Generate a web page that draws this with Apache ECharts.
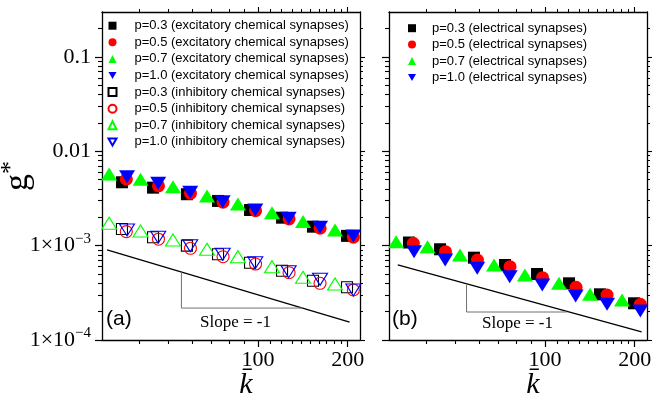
<!DOCTYPE html>
<html><head><meta charset="utf-8">
<script src="https://cdn.jsdelivr.net/npm/echarts@6/dist/echarts.min.js"></script>
<style>html,body{margin:0;padding:0;background:#fff}#c{width:659px;height:403px}</style>
</head><body><div id="c"></div><script>
// ---- data ----
const kP03 = [35.0, 44.5, 57.8, 73.5, 94.1, 120.5, 153, 199];
const kP05 = [36.2, 46.4, 59.4, 76.4, 98.2, 127.2, 161.6, 209];
const kP07 = [31.7, 40.4, 51.9, 67.5, 85.7, 111.5, 141.7, 181.4];
const kP10 = [36.4, 46.3, 59.3, 76.2, 98.0, 126.8, 161.6, 209];

const gExcP03 = [4.70e-3, 4.12e-3, 3.51e-3, 2.98e-3, 2.39e-3, 1.98e-3, 1.59e-3, 1.27e-3];
const gExcP05 = [5.06e-3, 4.30e-3, 3.59e-3, 2.89e-3, 2.35e-3, 1.92e-3, 1.53e-3, 1.23e-3];
const gExcP07 = [5.76e-3, 5.06e-3, 4.22e-3, 3.37e-3, 2.77e-3, 2.24e-3, 1.80e-3, 1.47e-3];
const gExcP10 = [5.39e-3, 4.59e-3, 3.68e-3, 2.93e-3, 2.39e-3, 1.95e-3, 1.57e-3, 1.27e-3];

const gInhP03 = [1.50e-3, 1.23e-3, 1.00e-3, 8.11e-4, 6.60e-4, 5.43e-4, 4.25e-4, 3.62e-4];
const gInhP05 = [1.41e-3, 1.17e-3, 9.38e-4, 7.64e-4, 6.39e-4, 5.17e-4, 3.99e-4, 3.39e-4];
const gInhP07 = [1.73e-3, 1.43e-3, 1.15e-3, 9.16e-4, 7.64e-4, 5.99e-4, 4.62e-4, 3.93e-4];
const gInhP10 = [1.47e-3, 1.23e-3, 1.00e-3, 8.11e-4, 6.60e-4, 5.30e-4, 4.40e-4, 3.39e-4];

const gEleP03 = [1.08e-3, 9.16e-4, 7.46e-4, 6.24e-4, 5.01e-4, 3.99e-4, 3.05e-4, 2.45e-4];
const gEleP05 = [1.06e-3, 8.64e-4, 7.05e-4, 5.99e-4, 4.58e-4, 3.62e-4, 3.00e-4, 2.39e-4];
const gEleP07 = [1.10e-3, 9.76e-4, 7.97e-4, 6.24e-4, 4.89e-4, 3.99e-4, 3.05e-4, 2.66e-4];
const gEleP10 = [8.64e-4, 7.05e-4, 5.76e-4, 4.69e-4, 3.83e-4, 2.93e-4, 2.39e-4, 2.03e-4];

// slope guide lines (reference lines drawn in data space)
const slopeAK = [31.2, 203];   const slopeAG = [9.0e-4, 1.55e-4];
const triAK = [55.4, 55.4, 141.4]; const triAG = [5.26e-4, 2.18e-4, 2.18e-4];
const slopeBK = [32.1, 211];   const slopeBG = [6.24e-4, 1.22e-4];
const triBK = [54.6, 54.6, 118.4]; const triBG = [3.83e-4, 1.98e-4, 1.98e-4];

// ticks
const kTicksMajor = [100, 200];
const kTickLabels = ['100', '200'];
const kTicksMinor = [40, 50, 60, 70, 80, 90, 110, 120, 130, 140, 150, 160, 170, 180, 190];
const gTicksMajor = [1e-4, 1e-3, 1e-2, 1e-1];
const gTickLabels = ['1×10{sup|−4}', '1×10{sup|−3}', '0.01', '0.1'];
const gTicksMinor = [2e-4, 3e-4, 4e-4, 5e-4, 6e-4, 7e-4, 8e-4, 9e-4,
                     2e-3, 3e-3, 4e-3, 5e-3, 6e-3, 7e-3, 8e-3, 9e-3,
                     0.02, 0.03, 0.04, 0.05, 0.06, 0.07, 0.08, 0.09, 0.2];

const namesA = ['p=0.3 (excitatory chemical synapses)', 'p=0.5 (excitatory chemical synapses)',
  'p=0.7 (excitatory chemical synapses)', 'p=1.0 (excitatory chemical synapses)',
  'p=0.3 (inhibitory chemical synapses)', 'p=0.5 (inhibitory chemical synapses)',
  'p=0.7 (inhibitory chemical synapses)', 'p=1.0 (inhibitory chemical synapses)'];
const namesB = ['p=0.3 (electrical synapses)', 'p=0.5 (electrical synapses)',
  'p=0.7 (electrical synapses)', 'p=1.0 (electrical synapses)'];

// ---- build ----
const SERIF = '"Liberation Serif", "Times New Roman", serif';
const SANS = '"Liberation Sans", Arial, sans-serif';
const XMIN = 30, XMAX = 220, YMIN = 1e-4, YMAX = 0.3;
const zip = (a, b) => a.map((v, i) => [v, b[i]]);
const lineBlack = { color: '#000', width: 1.3 };
const DOWN_ICON = 'path://M0,0L10,0L5,8.7Z';

function xAxes(g, main) {
  const base = { type: 'log', logBase: 10, gridIndex: g, min: XMIN, max: XMAX,
    splitLine: { show: false }, minorTick: { show: false }, minorSplitLine: { show: false } };
  return [
    Object.assign({}, base, { position: 'bottom',
      axisLine: { show: true, lineStyle: lineBlack },
      axisTick: { show: true, customValues: kTicksMajor, length: 7, lineStyle: { color: '#000', width: 1.2 } },
      axisLabel: { show: true, customValues: kTicksMajor,
        formatter: v => kTickLabels[kTicksMajor.findIndex(t => Math.abs(t - v) < 1e-6 * t)] || '',
        fontFamily: SERIF, fontSize: 22, color: '#000', margin: 9 },
      name: 'k\u0304', nameLocation: 'middle', nameGap: 30, nameMoveOverlap: false,
      nameTextStyle: { fontFamily: SERIF, fontStyle: 'italic', fontSize: 30, color: '#000', padding: [0, 0, 0, 30] } }),
    Object.assign({}, base, { position: 'bottom',
      axisLine: { show: false },
      axisTick: { show: true, customValues: kTicksMinor, length: 4, lineStyle: { color: '#000', width: 1.1 } },
      axisLabel: { show: false } }),
    Object.assign({}, base, { position: 'top',
      axisLine: { show: true, lineStyle: lineBlack },
      axisTick: { show: true, customValues: kTicksMajor, length: 5, lineStyle: { color: '#000', width: 1.1 } },
      axisLabel: { show: false } }),
    Object.assign({}, base, { position: 'top',
      axisLine: { show: false },
      axisTick: { show: true, customValues: kTicksMinor, length: 3, lineStyle: { color: '#000', width: 1.0 } },
      axisLabel: { show: false } })
  ];
}
function yAxes(g, main) {
  const base = { type: 'log', logBase: 10, gridIndex: g, min: YMIN, max: YMAX,
    splitLine: { show: false }, minorTick: { show: false }, minorSplitLine: { show: false } };
  const major = Object.assign({}, base, { position: 'left',
    axisLine: { show: true, lineStyle: lineBlack },
    axisTick: { show: true, customValues: gTicksMajor, length: 7, lineStyle: { color: '#000', width: 1.2 } },
    axisLabel: { show: main, customValues: gTicksMajor,
      formatter: v => gTickLabels[gTicksMajor.findIndex(t => Math.abs(t - v) < 1e-6 * t)] || '',
      fontFamily: SERIF, fontSize: 22, color: '#000', margin: 11,
      rich: { sup: { fontFamily: SERIF, fontSize: 15, color: '#000', padding: [0, 0, 13, 0] } } } });
  if (main) {
    Object.assign(major, { name: 'g{sup|*}', nameLocation: 'middle', nameRotate: 90, nameGap: 64,
      nameMoveOverlap: false,
      nameTextStyle: { fontFamily: SERIF, fontSize: 34, color: '#000',
        rich: { sup: { fontFamily: SERIF, fontSize: 26, color: '#000', padding: [0, 0, 14, 0] } } } });
  }
  return [
    major,
    Object.assign({}, base, { position: 'left', axisLine: { show: false },
      axisTick: { show: true, customValues: gTicksMinor, length: 4, lineStyle: { color: '#000', width: 1.1 } },
      axisLabel: { show: false } }),
    Object.assign({}, base, { position: 'right', axisLine: { show: true, lineStyle: lineBlack },
      axisTick: { show: true, customValues: gTicksMajor, length: 5, lineStyle: { color: '#000', width: 1.1 } },
      axisLabel: { show: false } }),
    Object.assign({}, base, { position: 'right', axisLine: { show: false },
      axisTick: { show: true, customValues: gTicksMinor, length: 3, lineStyle: { color: '#000', width: 1.0 } },
      axisLabel: { show: false } })
  ];
}

function sc(name, g, ks, gs, symbol, size, color, filled) {
  return { type: 'scatter', name, xAxisIndex: g * 4, yAxisIndex: g * 4, data: zip(ks, gs),
    symbol: symbol === 'down' ? 'triangle' : symbol, symbolRotate: symbol === 'down' ? 180 : 0,
    symbolSize: size, silent: true,
    itemStyle: filled ? { color, borderWidth: 0, opacity: 1 } : { color: 'none', borderColor: color, borderWidth: 1.1, opacity: 1 } };
}
function ln(g, ks, gs, color, width) {
  return { type: 'line', xAxisIndex: g * 4, yAxisIndex: g * 4, data: zip(ks, gs), symbol: 'none', silent: true,
    lineStyle: { color, width }, z: 1 };
}

const series = [
  ln(0, slopeAK, slopeAG, '#000', 1.3), ln(0, triAK, triAG, '#707070', 1),
  ln(1, slopeBK, slopeBG, '#000', 1.3), ln(1, triBK, triBG, '#707070', 1),
  sc(namesA[0], 0, kP03, gExcP03, 'rect', 12, '#000', true),
  sc(namesA[1], 0, kP05, gExcP05, 'circle', 13, '#ff0000', true),
  sc(namesA[2], 0, kP07, gExcP07, 'triangle', [16, 13], '#00ff00', true),
  sc(namesA[3], 0, kP10, gExcP10, 'down', [16, 13], '#0000ff', true),
  sc(namesA[4], 0, kP03, gInhP03, 'rect', 11, '#000', false),
  sc(namesA[5], 0, kP05, gInhP05, 'circle', 12, '#ff0000', false),
  sc(namesA[6], 0, kP07, gInhP07, 'triangle', [15, 12], '#00ff00', false),
  sc(namesA[7], 0, kP10, gInhP10, 'down', [15, 12], '#0000ff', false),
  sc(namesB[0], 1, kP03, gEleP03, 'rect', 12, '#000', true),
  sc(namesB[1], 1, kP05, gEleP05, 'circle', 13, '#ff0000', true),
  sc(namesB[2], 1, kP07, gEleP07, 'triangle', [16, 13], '#00ff00', true),
  sc(namesB[3], 1, kP10, gEleP10, 'down', [16, 13], '#0000ff', true)
];

// legend entries: downward triangles need an explicit icon
const legendItems = names => names.map(n => n.startsWith('p=1.0') ? { name: n, icon: DOWN_ICON } : { name: n });

const option = {
  backgroundColor: '#fff',
  animation: false,
  grid: [
    { left: 102, top: 12, width: 258, height: 328, containLabel: false, outerBoundsMode: 'none' },
    { left: 389, top: 12, width: 258, height: 328, containLabel: false, outerBoundsMode: 'none' }
  ],
  xAxis: xAxes(0, true).concat(xAxes(1, false)),
  yAxis: yAxes(0, true).concat(yAxes(1, false)),
  legend: [
    { data: legendItems(namesA), orient: 'vertical', left: 106, top: 17.4, padding: 0, itemGap: 0,
      itemWidth: 8, itemHeight: 8, selectedMode: false, symbolRotate: 0,
      textStyle: { fontFamily: SANS, fontSize: 13, color: '#000', lineHeight: 16.6, padding: [0, 0, 0, 13] } },
    { data: legendItems(namesB), orient: 'vertical', left: 408, top: 20, padding: 0, itemGap: 0,
      itemWidth: 8, itemHeight: 8, selectedMode: false, symbolRotate: 0,
      textStyle: { fontFamily: SANS, fontSize: 13, color: '#000', lineHeight: 16.4, padding: [0, 0, 0, 11] } }
  ],
  graphic: [
    { type: 'text', left: 106, top: 309, style: { text: '(a)', font: '21px ' + SANS, fill: '#000' } },
    { type: 'text', left: 392, top: 309, style: { text: '(b)', font: '21px ' + SANS, fill: '#000' } },
    { type: 'text', left: 200, top: 314, style: { text: 'Slope = -1', font: '17px ' + SERIF, fill: '#000' } },
    { type: 'text', left: 482, top: 315, style: { text: 'Slope = -1', font: '17px ' + SERIF, fill: '#000' } }
  ],
  series
};
const chart = echarts.init(document.getElementById('c'), null, { renderer: 'canvas' });
chart.setOption(option);
</script></body></html>
